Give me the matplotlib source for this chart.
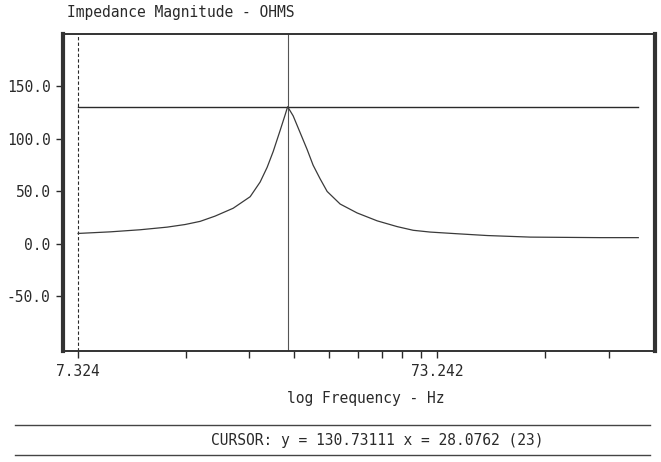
#!/usr/bin/env python3

"""Impedance magnitude vs log frequency, old analyser screen style."""

import matplotlib
matplotlib.use("Agg")
import matplotlib.pyplot as plt
from matplotlib.lines import Line2D

# curve (Hz, ohms)
freq = [7.324, 8.99, 10.90, 12.96, 14.55, 16.02, 17.63, 19.80, 22.08, 23.54,
        24.62, 25.59, 26.75, 27.63, 28.0762, 29.09, 30.42, 31.81, 33.06, 34.58,
        36.17, 39.32, 43.85, 49.85, 56.67, 62.80, 70.03, 83.27, 100.9, 133.0,
        208.3, 265.9]
impedance = [10.0, 11.5, 13.5, 16.0, 18.5, 21.5, 26.5, 34.0, 45.0, 59.0,
             73.0, 88.0, 108.0, 123.0, 130.73, 122.0, 106.0, 90.0, 75.0, 62.0,
             50.0, 38.0, 29.5, 22.0, 16.5, 13.0, 11.3, 9.7, 8.0, 6.5,
             6.0, 6.0]

cursor_x = 28.0762
cursor_y = 130.73111
cursor_idx = 23
start_freq = 7.3242
decade_freq = 73.242

y_ticks = [150, 100, 50, 0, -50]
x_labels = ["7.324", "73.242"]

W, H = 661, 462
INK = "#2a2a2a"
FONT = "DejaVu Sans Mono"


def main():
    fig = plt.figure(figsize=(W / 100, H / 100), dpi=100)
    ax = fig.add_axes([63 / W, 1 - 351 / H, (655 - 63) / W, (351 - 34) / H])

    ax.set_xscale("log")
    ax.set_xlim(6.65, 296)
    ax.set_ylim(-102, 200)

    # cursor markers
    ax.axvline(start_freq, color=INK, lw=0.8, ls=(0, (3, 2)))
    ax.axvline(cursor_x, color="#555555", lw=0.8)
    ax.plot([freq[0], freq[-1]], [cursor_y, cursor_y], color=INK, lw=1.0)

    ax.plot(freq, impedance, color="#3a3a3a", lw=0.9)

    # ticks: multiples of the first bin, labels only on the decades
    xt = [start_freq * k for k in range(1, 11)] + [decade_freq * k for k in range(2, 4)]
    ax.set_xticks(xt)
    ax.set_xticklabels([x_labels[0]] + [""] * 8 + [x_labels[1]] + ["", ""])
    ax.xaxis.set_minor_locator(matplotlib.ticker.NullLocator())
    ax.set_yticks(y_ticks)
    ax.set_yticklabels(["%.1f" % v for v in y_ticks])
    ax.tick_params(direction="out", length=5, width=1, color=INK,
                   labelsize=10.5, labelcolor=INK, pad=4)
    for lab in ax.get_xticklabels() + ax.get_yticklabels():
        lab.set_family(FONT)

    for side, lw in [("left", 3.0), ("right", 3.0), ("top", 1.4), ("bottom", 1.4)]:
        ax.spines[side].set_linewidth(lw)
        ax.spines[side].set_color("#333333")

    fig.text(67 / W, 1 - 13 / H, "Impedance Magnitude - OHMS", family=FONT,
             fontsize=10.5, color=INK, va="center", ha="left")
    fig.text(366 / W, 1 - 398 / H, "log Frequency - Hz", family=FONT,
             fontsize=10.5, color=INK, va="center", ha="center")
    fig.text(377 / W, 1 - 440 / H,
             "CURSOR: y = %.5f x = %.4f (%d)" % (cursor_y, cursor_x, cursor_idx),
             family=FONT, fontsize=10.5, color=INK, va="center", ha="center")

    for yy in [425, 455]:
        fig.add_artist(Line2D([15 / W, 650 / W], [1 - yy / H, 1 - yy / H],
                              transform=fig.transFigure, color="#444444", lw=1.0))

    fig.savefig("out.png", dpi=100)


if __name__ == "__main__":
    main()
